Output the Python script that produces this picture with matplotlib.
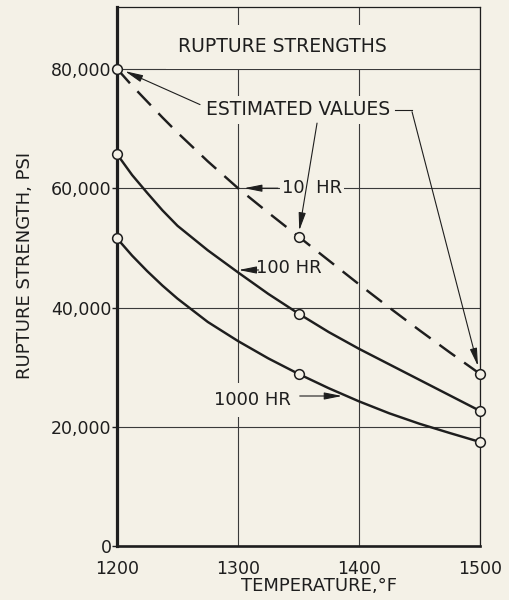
import numpy as np
import matplotlib
matplotlib.use("Agg")
import matplotlib.pyplot as plt

# values (psi vs deg F)
temps = [1200, 1212.5, 1225, 1237.5, 1250, 1275, 1300, 1325, 1350, 1375, 1400, 1425, 1450, 1475, 1500]
s_10 = [80000, 77150, 74500, 71850, 69300, 64500, 60000, 55900, 51900, 47900, 43900, 40000, 36200, 32500, 28900]
s_100 = [65700, 62200, 59200, 56300, 53700, 49600, 45900, 42300, 39000, 35900, 33100, 30500, 27900, 25300, 22700]
s_1000 = [51600, 48700, 46100, 43700, 41500, 37600, 34400, 31500, 28900, 26500, 24300, 22300, 20550, 19000, 17500]

# measured points (circles)
mark_t = [1200, 1350, 1500]
mark_10 = [80000, 51900, 28900]
mark_100 = [65700, 39000, 22700]
mark_1000 = [51600, 28900, 17500]

x_ticks = [1200, 1300, 1400, 1500]
y_ticks = [0, 20000, 40000, 60000, 80000]
y_labels = ["0", "20,000", "40,000", "60,000", "80,000"]

bg = "#f4f1e7"
ink = "#1e1e1e"

plt.rcParams['font.family'] = ['DejaVu Sans']

fig = plt.figure(figsize=(5.09, 6.0), dpi=100, facecolor=bg)
ax = fig.add_axes([0.2299, 0.0892, 0.7132, 0.8987], facecolor=bg)

ax.set_xlim(1200, 1500)
ax.set_ylim(0, 90300)
ax.set_xticks(x_ticks)
ax.set_yticks(y_ticks)
ax.set_yticklabels(y_labels)
ax.tick_params(axis="x", length=0, pad=10, labelsize=12.5, colors=ink)
ax.tick_params(axis="y", length=3.5, width=1, direction="out", pad=0.5,
               labelsize=12.5, colors=ink)
ax.grid(True, color="#3a3a3a", linewidth=0.8)
ax.set_axisbelow(True)

ax.spines["left"].set_linewidth(2.3)
ax.spines["bottom"].set_linewidth(1.9)
ax.spines["top"].set_linewidth(0.9)
ax.spines["right"].set_linewidth(0.9)
for sp in ax.spines.values():
    sp.set_color(ink)

# curves
ax.plot(temps, s_10, color=ink, lw=1.75, dashes=(8, 4.5), zorder=4)
ax.plot(temps, s_100, color=ink, lw=1.75, zorder=4)
ax.plot(temps, s_1000, color=ink, lw=1.75, zorder=4)
for m in (mark_10, mark_100, mark_1000):
    ax.plot(mark_t, m, "o", ms=7, mfc=bg, mec=ink, mew=1.1, zorder=6,
            clip_on=False)

box = dict(facecolor=bg, edgecolor="none", pad=1.5)
ax.text(1337, 83700, "RUPTURE STRENGTHS", ha="center", va="center",
        fontsize=13.5, color=ink, zorder=3,
        bbox=dict(facecolor=bg, edgecolor="none", pad=9))
ax.text(1349.6, 73100, "ESTIMATED VALUES", ha="center", va="center",
        fontsize=13.5, color=ink, zorder=3,
        bbox=dict(facecolor=bg, edgecolor="none", pad=3))
ax.text(1361, 60100, "10  HR", ha="center", va="center",
        fontsize=13, color=ink, zorder=3, bbox=box)
ax.text(1342, 46600, "100 HR", ha="center", va="center",
        fontsize=13, color=ink, zorder=3, bbox=box)
ax.text(1312, 24500, "1000 HR", ha="center", va="center",
        fontsize=13, color=ink, zorder=3,
        bbox=dict(facecolor=bg, edgecolor="none", pad=6))

arrow = dict(arrowstyle="-|>,head_length=0.9,head_width=0.18",
             color=ink, lw=0.8, shrinkA=0, shrinkB=0, mutation_scale=12)
# curve label arrows
ax.annotate("", xy=(1305, 60000), xytext=(1333, 60000), arrowprops=arrow, zorder=5)
ax.annotate("", xy=(1300.5, 46300), xytext=(1317, 46300), arrowprops=arrow, zorder=5)
ax.annotate("", xy=(1386, 25200), xytext=(1351, 25200), arrowprops=arrow, zorder=5)

# estimated values leaders
ax.annotate("", xy=(1206.6, 79600), xytext=(1268.6, 74000), arrowprops=arrow, zorder=5)
ax.annotate("", xy=(1350.6, 52900), xytext=(1365.3, 70900), arrowprops=arrow, zorder=5)
ax.plot([1429.8, 1443.8], [73100, 73100], color=ink, lw=0.8, zorder=5)
ax.annotate("", xy=(1498.3, 30200), xytext=(1443.8, 72800), arrowprops=arrow, zorder=5)

ax.text(0.556, -0.073, "TEMPERATURE,°F", transform=ax.transAxes,
        ha="center", va="center", fontsize=13, color=ink)
ax.text(-0.2534, 0.522, "RUPTURE STRENGTH, PSI", transform=ax.transAxes,
        ha="center", va="center", rotation=90, fontsize=13, color=ink)

fig.savefig("out.png", dpi=100, facecolor=bg)
